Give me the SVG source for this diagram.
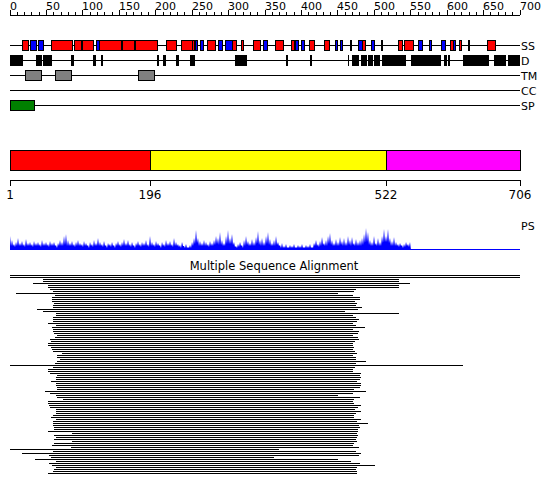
<svg xmlns="http://www.w3.org/2000/svg" width="550" height="495" viewBox="0 0 550 495">
<style>
text{font-family:"DejaVu Sans",sans-serif;fill:#000}
.rl{font-size:11px}
.tl{font-size:11px}
.ax{font-size:12px;text-anchor:middle}
.ln{stroke:#000;stroke-width:1;fill:none;shape-rendering:crispEdges}
.bx{stroke:#000;stroke-width:1;shape-rendering:crispEdges}
.r{fill:#ff0000}.b{fill:#0000ff}.k{fill:#000}.g{fill:#808080}.gr{fill:#008000}
</style>
<rect width="550" height="495" fill="#fff"/>
<g id="ruler">
<path class="ln" d="M10 15.5H520M10.5 10V15M17.5 12V15M24.5 12V15M31.5 12V15M39.5 12V15M46.5 10V15M53.5 12V15M61.5 12V15M68.5 12V15M75.5 12V15M82.5 10V15M90.5 12V15M97.5 12V15M104.5 12V15M112.5 12V15M119.5 10V15M126.5 12V15M133.5 12V15M141.5 12V15M148.5 12V15M155.5 10V15M163.5 12V15M170.5 12V15M177.5 12V15M184.5 12V15M192.5 10V15M199.5 12V15M206.5 12V15M214.5 12V15M221.5 12V15M228.5 10V15M235.5 12V15M243.5 12V15M250.5 12V15M257.5 12V15M265.5 10V15M272.5 12V15M279.5 12V15M286.5 12V15M294.5 12V15M301.5 10V15M308.5 12V15M316.5 12V15M323.5 12V15M330.5 12V15M337.5 10V15M345.5 12V15M352.5 12V15M359.5 12V15M367.5 12V15M374.5 10V15M381.5 12V15M388.5 12V15M396.5 12V15M403.5 12V15M410.5 10V15M418.5 12V15M425.5 12V15M432.5 12V15M439.5 12V15M447.5 10V15M454.5 12V15M461.5 12V15M469.5 12V15M476.5 12V15M483.5 10V15M490.5 12V15M498.5 12V15M505.5 12V15M512.5 12V15M520.5 10V15"/>
<text class="rl" x="10" y="9.5">0</text>
<text class="rl" x="46" y="9.5">50</text>
<text class="rl" x="82" y="9.5">100</text>
<text class="rl" x="119" y="9.5">150</text>
<text class="rl" x="155" y="9.5">200</text>
<text class="rl" x="192" y="9.5">250</text>
<text class="rl" x="228" y="9.5">300</text>
<text class="rl" x="265" y="9.5">350</text>
<text class="rl" x="301" y="9.5">400</text>
<text class="rl" x="337" y="9.5">450</text>
<text class="rl" x="374" y="9.5">500</text>
<text class="rl" x="410" y="9.5">550</text>
<text class="rl" x="447" y="9.5">600</text>
<text class="rl" x="483" y="9.5">650</text>
<text class="rl" x="520" y="9.5">700</text>
</g>
<g id="track-lines">
<path class="ln" d="M10 45.5H520M10 60.5H520M10 75.5H520M10 90.5H520M10 105.5H520"/>
</g>
<g id="SS">
<rect class="bx r" x="22.5" y="40.5" width="6" height="10"/>
<rect class="bx b" x="30.5" y="40.5" width="6" height="10"/>
<rect class="bx b" x="38.5" y="40.5" width="5" height="10"/>
<rect class="bx r" x="51.5" y="40.5" width="21" height="10"/>
<rect class="bx r" x="74.5" y="40.5" width="7" height="10"/>
<rect class="bx r" x="82.5" y="40.5" width="11" height="10"/>
<rect class="bx b" x="96.5" y="40.5" width="3" height="10"/>
<rect class="bx r" x="99.5" y="40.5" width="22" height="10"/>
<rect class="bx r" x="122.5" y="40.5" width="12" height="10"/>
<rect class="bx r" x="135.5" y="40.5" width="22" height="10"/>
<rect class="bx r" x="166.5" y="40.5" width="10" height="10"/>
<rect class="bx r" x="181.5" y="40.5" width="11" height="10"/>
<rect class="bx r" x="192.5" y="40.5" width="2" height="10"/>
<rect class="bx b" x="195.5" y="40.5" width="2" height="10"/>
<rect class="bx b" x="200.5" y="40.5" width="3" height="10"/>
<rect class="bx r" x="207.5" y="40.5" width="8" height="10"/>
<rect class="bx b" x="218.5" y="40.5" width="4" height="10"/>
<rect class="bx b" x="225.5" y="40.5" width="7" height="10"/>
<rect class="bx r" x="232.5" y="40.5" width="4" height="10"/>
<rect class="bx r" x="241.5" y="40.5" width="2" height="10"/>
<rect class="bx r" x="253.5" y="40.5" width="7" height="10"/>
<rect class="bx b" x="263.5" y="40.5" width="4" height="10"/>
<rect class="bx r" x="275.5" y="40.5" width="8" height="10"/>
<rect class="bx r" x="291.5" y="40.5" width="3" height="10"/>
<rect class="bx b" x="295.5" y="40.5" width="3" height="10"/>
<rect class="bx b" x="301.5" y="40.5" width="3" height="10"/>
<rect class="bx r" x="309.5" y="40.5" width="5" height="10"/>
<rect class="bx r" x="324.5" y="40.5" width="5" height="10"/>
<rect class="bx b" x="335.5" y="40.5" width="2" height="10"/>
<rect class="bx b" x="340.5" y="40.5" width="2" height="10"/>
<rect class="bx b" x="350.5" y="40.5" width="1" height="10"/>
<rect class="bx b" x="358.5" y="40.5" width="4" height="10"/>
<rect class="bx r" x="362.5" y="40.5" width="3" height="10"/>
<rect class="bx b" x="371.5" y="40.5" width="3" height="10"/>
<rect class="bx b" x="381.5" y="40.5" width="1" height="10"/>
<rect class="bx r" x="398.5" y="40.5" width="4" height="10"/>
<rect class="bx r" x="404.5" y="40.5" width="9" height="10"/>
<rect class="bx b" x="418.5" y="40.5" width="4" height="10"/>
<rect class="bx b" x="429.5" y="40.5" width="2" height="10"/>
<rect class="bx b" x="441.5" y="40.5" width="4" height="10"/>
<rect class="bx r" x="450.5" y="40.5" width="3" height="10"/>
<rect class="bx b" x="453.5" y="40.5" width="2" height="10"/>
<rect class="bx r" x="459.5" y="40.5" width="2" height="10"/>
<rect class="bx r" x="468.5" y="40.5" width="1" height="10"/>
<rect class="bx r" x="487.5" y="40.5" width="8" height="10"/>
<text class="tl" x="521" y="49.5">SS</text>
</g>
<g id="D">
<path class="k" shape-rendering="crispEdges" d="M10 55h10v11h-10zM20 55h3v11h-3zM36 55h3v11h-3zM39 55h3v11h-3zM43 55h9v11h-9zM71 55h3v11h-3zM93 55h3v11h-3zM101 55h2v11h-2zM157 55h2v11h-2zM163 55h3v11h-3zM176 55h3v11h-3zM190 55h5v11h-5zM235 55h12v11h-12zM286 55h2v11h-2zM310 55h2v11h-2zM348 55h1v11h-1zM352 55h7v11h-7zM361 55h6v11h-6zM368 55h5v11h-5zM374 55h6v11h-6zM382 55h24v11h-24zM411 55h30v11h-30zM444 55h3v11h-3zM448 55h2v11h-2zM463 55h26v11h-26zM494 55h12v11h-12zM508 55h12v11h-12z"/>
<text class="tl" x="521" y="64.5">D</text>
</g>
<g id="TM">
<rect class="bx g" x="25.5" y="70.5" width="16" height="10"/>
<rect class="bx g" x="55.5" y="70.5" width="16" height="10"/>
<rect class="bx g" x="138.5" y="70.5" width="16" height="10"/>
<text class="tl" x="521" y="79.5">TM</text>
</g>
<g id="CC">
<text class="tl" x="521" y="94.5">CC</text>
</g>
<g id="SP">
<rect class="bx gr" x="10.5" y="100.5" width="24" height="10"/>
<text class="tl" x="521" y="109.5">SP</text>
</g>
<g id="domains">
<rect class="bx" x="10.5" y="150.5" width="140" height="20" fill="#ff0000"/>
<rect class="bx" x="150.5" y="150.5" width="236" height="20" fill="#ffff00"/>
<rect class="bx" x="386.5" y="150.5" width="134" height="20" fill="#ff00ff"/>
<path class="ln" d="M10 180.5H521M10.5 180V186M150.5 180V186M386.5 180V186M520.5 180V186"/>
<text class="ax" x="10" y="199">1</text>
<text class="ax" x="150" y="199">196</text>
<text class="ax" x="386" y="199">522</text>
<text class="ax" x="520" y="199">706</text>
</g>
<g id="PS">
<path fill="#0000ff" d="M10 250L10 236L11 246L12 240L13 246L14 244L15 247L16 242L17 246L18 238L19 246L20 243L21 246L22 241L23 246L24 244L25 247L26 239L27 246L28 243L29 246L30 242L31 246L32 244L33 247L34 241L35 246L36 243L37 246L38 242L39 246L40 244L41 247L42 240L43 246L44 243L45 246L46 242L47 246L48 244L49 247L50 241L51 246L52 243L53 246L54 242L55 246L56 245L57 248L58 243L59 246L60 240L61 246L62 242L63 246L64 236L65 245L66 234L67 246L68 240L69 246L70 243L71 246L72 241L73 246L74 244L75 247L76 242L77 246L78 240L79 246L80 243L81 246L82 244L83 247L84 241L85 246L86 243L87 246L88 245L89 248L90 242L91 246L92 244L93 247L94 240L95 246L96 243L97 246L98 238L99 246L100 242L101 246L102 244L103 247L104 241L105 246L106 245L107 248L108 243L109 246L110 244L111 247L112 242L113 246L114 245L115 248L116 243L117 246L118 241L119 246L120 244L121 247L122 242L123 246L124 239L125 246L126 243L127 246L128 240L129 246L130 244L131 247L132 242L133 246L134 245L135 248L136 243L137 246L138 241L139 246L140 244L141 247L142 242L143 246L144 243L145 246L146 240L147 246L148 244L149 247L150 236L151 246L152 242L153 246L154 244L155 247L156 241L157 246L158 243L159 246L160 245L161 248L162 242L163 246L164 244L165 247L166 240L167 246L168 243L169 246L170 241L171 246L172 244L173 247L174 238L175 246L176 242L177 246L178 244L179 247L180 245L181 248L182 242L183 246L184 246L185 248L186 244L187 248L188 247L189 248L190 245L191 248L192 242L193 246L194 238L195 244L196 230L197 243L198 238L199 246L200 241L201 246L202 243L203 246L204 240L205 246L206 242L207 246L208 244L209 247L210 241L211 246L212 243L213 246L214 240L215 245L216 236L217 244L218 238L219 245L220 232L221 245L222 240L223 246L224 243L225 246L226 236L227 244L228 230L229 244L230 238L231 244L232 234L233 245L234 242L235 247L236 246L237 248L238 244L239 247L240 242L241 246L242 245L243 248L244 240L245 246L246 236L247 245L248 241L249 246L250 243L251 246L252 239L253 246L254 242L255 246L256 237L257 244L258 231L259 245L260 240L261 246L262 238L263 246L264 242L265 246L266 236L267 244L268 232L269 245L270 239L271 246L272 243L273 246L274 240L275 246L276 236L277 245L278 242L279 246L280 245L281 248L282 243L283 248L284 246L285 248L286 244L287 248L288 247L289 248L290 245L291 248L292 246L293 248L294 244L295 248L296 247L297 248L298 245L299 248L300 246L301 248L302 244L303 248L304 247L305 248L306 245L307 248L308 246L309 248L310 244L311 248L312 247L313 248L314 243L315 246L316 240L317 246L318 244L319 247L320 241L321 246L322 237L323 245L324 243L325 246L326 240L327 246L328 236L329 244L330 233L331 245L332 240L333 246L334 243L335 246L336 239L337 246L338 242L339 246L340 237L341 245L342 241L343 246L344 238L345 246L346 242L347 246L348 236L349 245L350 240L351 246L352 237L353 245L354 243L355 246L356 239L357 246L358 242L359 246L360 240L361 246L362 238L363 245L364 234L365 243L366 228L367 242L368 232L369 245L370 240L371 246L372 242L373 246L374 236L375 245L376 243L377 246L378 238L379 246L380 242L381 246L382 236L383 243L384 229L385 242L386 236L387 242L388 229L389 243L390 238L391 246L392 241L393 246L394 237L395 246L396 242L397 246L398 244L399 247L400 243L401 246L402 245L403 248L404 244L405 247L406 242L407 246L408 244L409 247L410 242L411 250Z"/>
<path d="M10 249.5H520" stroke="#0000ff" stroke-width="1" fill="none" shape-rendering="crispEdges"/>
<text class="tl" x="521" y="230">PS</text>
</g>
<g id="MSA">
<text x="274" y="269.5" font-size="11.5" text-anchor="middle">Multiple Sequence Alignment</text>
<path class="ln" d="M10 275.5H520M10 277.5H520M43 279.5H399M43 281.5H399M33 283.5H410M48 285.5H399M48 287.5H399M50 289.5H356M53 291.5H354M16 293.5H338M55 295.5H353M52 297.5H360M52 299.5H360M52 301.5H355M54 303.5H357M53 305.5H356M53 307.5H362M37 309.5H358M43 311.5H345M56 313.5H399M56 315.5H353M53 317.5H356M53 319.5H359M53 321.5H357M48 323.5H353M56 325.5H356M52 327.5H365M53 329.5H353M53 331.5H359M54 333.5H358M57 335.5H353M55 337.5H358M50 339.5H359M51 341.5H355M48 343.5H353M48 345.5H353M51 347.5H354M52 349.5H353M53 351.5H355M62 353.5H357M57 355.5H353M57 357.5H356M60 359.5H356M57 361.5H366M55 363.5H356M10 365.5H463M53 367.5H355M48 369.5H353M48 371.5H353M50 373.5H361M57 375.5H360M56 377.5H361M56 379.5H360M51 381.5H357M56 383.5H361M56 385.5H361M57 387.5H360M57 389.5H354M45 391.5H366M50 393.5H353M56 395.5H338M57 397.5H360M63 399.5H354M48 401.5H353M48 403.5H354M49 405.5H361M50 407.5H358M56 409.5H355M56 411.5H361M56 413.5H356M53 415.5H354M51 417.5H354M56 419.5H361M53 421.5H357M53 423.5H368M53 425.5H359M54 427.5H360M54 429.5H358M48 431.5H358M72 433.5H357M54 435.5H358M56 437.5H357M54 439.5H356M72 441.5H357M54 443.5H354M52 445.5H353M71 447.5H359M10 449.5H279M53 451.5H356M22 453.5H361M49 455.5H359M51 457.5H274M35 459.5H338M56 461.5H351M49 463.5H360M52 465.5H375M56 467.5H357M54 469.5H356M53 471.5H357M48 473.5H357"/>
</g>
</svg>
